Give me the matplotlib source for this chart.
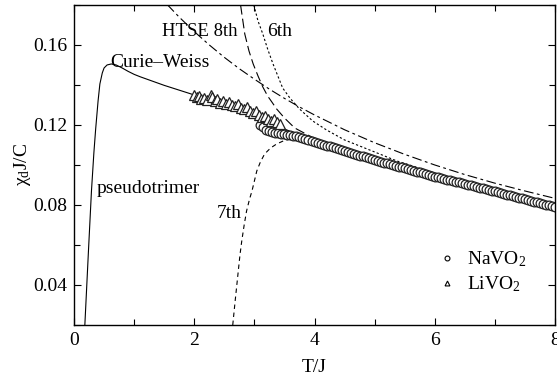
import matplotlib
matplotlib.use("Agg")
import matplotlib.pyplot as plt
from matplotlib.ticker import MultipleLocator
from matplotlib.lines import Line2D

plt.rcParams['font.family'] = ['Liberation Serif', 'DejaVu Serif']
plt.rcParams['mathtext.fontset'] = 'custom'
plt.rcParams['mathtext.rm'] = 'Liberation Serif'
plt.rcParams['mathtext.it'] = 'Liberation Serif:italic'
plt.rcParams['lines.scale_dashes'] = False

# ---- data ----
pseudo_T = [0.18, 0.24, 0.29, 0.33, 0.36, 0.40, 0.43, 0.47, 0.50, 0.55, 0.62, 0.70,
            0.80, 0.90, 1.00, 1.10, 1.50, 2.00, 2.50, 3.00, 3.50, 4.00, 4.50, 5.00,
            5.50, 6.00, 6.50, 7.00, 7.50, 8.00]
pseudo_chi = [0.020, 0.057, 0.087, 0.106, 0.118, 0.132, 0.1405, 0.146, 0.1485, 0.1500,
              0.1505, 0.1500, 0.1485, 0.1468, 0.1453, 0.1441, 0.1398, 0.1350, 0.1298,
              0.1245, 0.1180, 0.1118, 0.1071, 0.1026, 0.0984, 0.0943, 0.0905, 0.0868,
              0.0829, 0.0790]

cw_T = [1.55, 1.75, 2.0, 2.25, 2.5, 2.75, 3.0, 3.25, 3.5, 3.75, 4.0, 4.5, 5.0, 5.5,
        6.0, 6.5, 7.0, 7.5, 8.0]
cw_chi = [0.1802, 0.1739, 0.1667, 0.1600, 0.1538, 0.1481, 0.1429, 0.1379, 0.1333,
          0.1290, 0.1250, 0.1176, 0.1111, 0.1053, 0.1000, 0.0952, 0.0909, 0.0870, 0.0833]

h8_T = [2.77, 2.84, 2.91, 2.98, 3.06, 3.14, 3.22, 3.29, 3.37, 3.50, 3.67, 3.92, 4.20,
        4.60, 5.00, 5.50, 6.00, 6.50, 7.00, 7.50, 8.00]
h8_chi = [0.1800, 0.1655, 0.1570, 0.1505, 0.1445, 0.1390, 0.1345, 0.1315, 0.1280,
          0.1235, 0.1185, 0.1145, 0.1110, 0.1068, 0.1029, 0.0987, 0.0946, 0.0908,
          0.0871, 0.0833, 0.0794]

h6_T = [2.99, 3.06, 3.14, 3.22, 3.31, 3.39, 3.47, 3.59, 3.75, 3.97, 4.20, 4.50, 5.00,
        5.37, 6.00, 6.50, 7.00, 7.50, 8.00]
h6_chi = [0.1800, 0.1720, 0.1655, 0.1580, 0.1505, 0.1445, 0.1385, 0.1335, 0.1280,
          0.1220, 0.1175, 0.1125, 0.1065, 0.1020, 0.0960, 0.0918, 0.0880, 0.0840, 0.0803]

h7_T = [2.64, 2.68, 2.72, 2.76, 2.79, 2.83, 2.87, 2.92, 2.96, 3.00, 3.04, 3.10, 3.17,
        3.27, 3.37, 3.48, 3.59, 3.75, 3.90, 4.00, 4.50, 5.00, 6.00, 7.00, 8.00]
h7_chi = [0.020, 0.032, 0.0435, 0.055, 0.062, 0.070, 0.077, 0.083, 0.087, 0.092,
          0.097, 0.1015, 0.1055, 0.1085, 0.1105, 0.1120, 0.1130, 0.1135, 0.1128,
          0.1120, 0.1071, 0.1026, 0.0943, 0.0868, 0.0790]

na_T = [3.10, 3.15, 3.20, 3.25, 3.30, 3.35, 3.40, 3.45, 3.50, 3.55, 3.60, 3.65, 3.70,
        3.75, 3.80, 3.85, 3.90, 3.95, 4.00, 4.05, 4.10, 4.15, 4.20, 4.25, 4.30, 4.35,
        4.40, 4.45, 4.50, 4.55, 4.60, 4.65, 4.70, 4.75, 4.80, 4.85, 4.90, 4.95, 5.00,
        5.05, 5.10, 5.15, 5.20, 5.25, 5.30, 5.35, 5.40, 5.45, 5.50, 5.55, 5.60, 5.65,
        5.70, 5.75, 5.80, 5.85, 5.90, 5.95, 6.00, 6.05, 6.10, 6.15, 6.20, 6.25, 6.30,
        6.35, 6.40, 6.45, 6.50, 6.55, 6.60, 6.65, 6.70, 6.75, 6.80, 6.85, 6.90, 6.95,
        7.00, 7.05, 7.10, 7.15, 7.20, 7.25, 7.30, 7.35, 7.40, 7.45, 7.50, 7.55, 7.60,
        7.65, 7.70, 7.75, 7.80, 7.85, 7.90, 7.95, 8.00]
na_chi = [0.1200, 0.1188, 0.1176, 0.1168, 0.1163, 0.1160, 0.1158, 0.1156, 0.1154,
          0.1152, 0.1150, 0.1147, 0.1143, 0.1139, 0.1135, 0.1131, 0.1126, 0.1121,
          0.1116, 0.1111, 0.1107, 0.1102, 0.1097, 0.1093, 0.1088, 0.1084, 0.1079,
          0.1075, 0.1070, 0.1065, 0.1061, 0.1056, 0.1052, 0.1047, 0.1043, 0.1038,
          0.1034, 0.1029, 0.1025, 0.1021, 0.1017, 0.1012, 0.1008, 0.1004, 0.1000,
          0.0996, 0.0992, 0.0988, 0.0984, 0.0979, 0.0975, 0.0971, 0.0967, 0.0963,
          0.0959, 0.0954, 0.0950, 0.0946, 0.0942, 0.0938, 0.0935, 0.0931, 0.0927,
          0.0924, 0.0920, 0.0916, 0.0913, 0.0909, 0.0905, 0.0901, 0.0898, 0.0894,
          0.0890, 0.0887, 0.0883, 0.0879, 0.0875, 0.0872, 0.0868, 0.0864, 0.0860,
          0.0856, 0.0852, 0.0848, 0.0844, 0.0841, 0.0837, 0.0833, 0.0829, 0.0825,
          0.0821, 0.0817, 0.0813, 0.0809, 0.0805, 0.0802, 0.0798, 0.0794, 0.0790]

li_T = [2.00, 2.04, 2.08, 2.12, 2.17, 2.22, 2.27, 2.30, 2.34, 2.38, 2.43, 2.48, 2.53,
        2.58, 2.63, 2.68, 2.73, 2.78, 2.83, 2.88, 2.93, 2.98, 3.03, 3.08, 3.12, 3.17,
        3.22, 3.27, 3.32, 3.37, 3.42]
li_chi = [0.1352, 0.1338, 0.1345, 0.1330, 0.1336, 0.1325, 0.1352, 0.1340, 0.1318,
          0.1328, 0.1312, 0.1320, 0.1305, 0.1315, 0.1300, 0.1296, 0.1305, 0.1285,
          0.1278, 0.1288, 0.1270, 0.1262, 0.1270, 0.1252, 0.1240, 0.1247, 0.1232,
          0.1222, 0.1228, 0.1215, 0.1205]

x_ticks = [0, 2, 4, 6, 8]
y_ticks = [0.04, 0.08, 0.12, 0.16]
y_tick_labels = ['0.04', '0.08', '0.12', '0.16']

# ---- figure ----
fig = plt.figure(figsize=(5.57, 3.81), dpi=100)
ax = fig.add_axes([0.1329, 0.147, 0.8635, 0.840])

lw = 0.8
ax.plot(pseudo_T, pseudo_chi, color='black', lw=lw)
ax.plot(cw_T, cw_chi, color='black', lw=lw, dashes=(7, 2.5, 2, 2.5))
ax.plot(h8_T, h8_chi, color='black', lw=lw, dashes=(7, 3))
ax.plot(h6_T, h6_chi, color='black', lw=lw, dashes=(1.6, 1.6))
ax.plot(h7_T, h7_chi, color='black', lw=lw, dashes=(3.2, 2.6))

ax.plot(na_T, na_chi, linestyle='none', marker='o', ms=6.3, mfc='white',
        mec='#222222', mew=0.9)
ax.plot(li_T, li_chi, linestyle='none', marker='^', ms=7, mfc='white',
        mec='#222222', mew=0.9)

ax.set_xlim(0, 8)
ax.set_ylim(0.02, 0.18)
ax.set_xticks(x_ticks)
ax.set_xticklabels([str(v) for v in x_ticks])
ax.set_yticks(y_ticks)
ax.set_yticklabels(y_tick_labels)
ax.xaxis.set_minor_locator(MultipleLocator(1))
ax.yaxis.set_minor_locator(MultipleLocator(0.02))
ax.tick_params(which='both', direction='in', top=True, right=True,
               labelsize=14, width=0.8, pad=5)
ax.tick_params(which='major', length=5)
ax.tick_params(which='minor', length=4)
for s in ax.spines.values():
    s.set_linewidth(1.0)

ax.set_xlabel('T/J', fontsize=14, labelpad=7)
ax.set_ylabel('χ$_\\mathrm{d}$J/C', fontsize=14, labelpad=0)

ax.text(1.46, 0.1668, 'HTSE 8th', fontsize=13.5, ha='left', va='center')
ax.text(3.21, 0.1668, '6th', fontsize=14, ha='left', va='center')
ax.text(0.60, 0.1511, 'Curie\u2013Weiss', fontsize=14, ha='left', va='center')
ax.text(0.38, 0.0880, 'pseudotrimer', fontsize=14, ha='left', va='center')
ax.text(2.38, 0.0756, '7th', fontsize=14, ha='left', va='center')

handles = [Line2D([], [], linestyle='none', marker='o', ms=3.5, mfc='white',
                  mec='black', mew=0.8),
           Line2D([], [], linestyle='none', marker='^', ms=3.5, mfc='white',
                  mec='black', mew=0.8)]
ax.legend(handles, ['NaVO$_2$', 'LiVO$_2$'], loc='upper left',
          bbox_to_anchor=(0.756, 0.235), frameon=False, fontsize=14,
          handlelength=1.0, handletextpad=0.5, labelspacing=0.25,
          borderpad=0, borderaxespad=0)

fig.savefig('out.png', dpi=100)
